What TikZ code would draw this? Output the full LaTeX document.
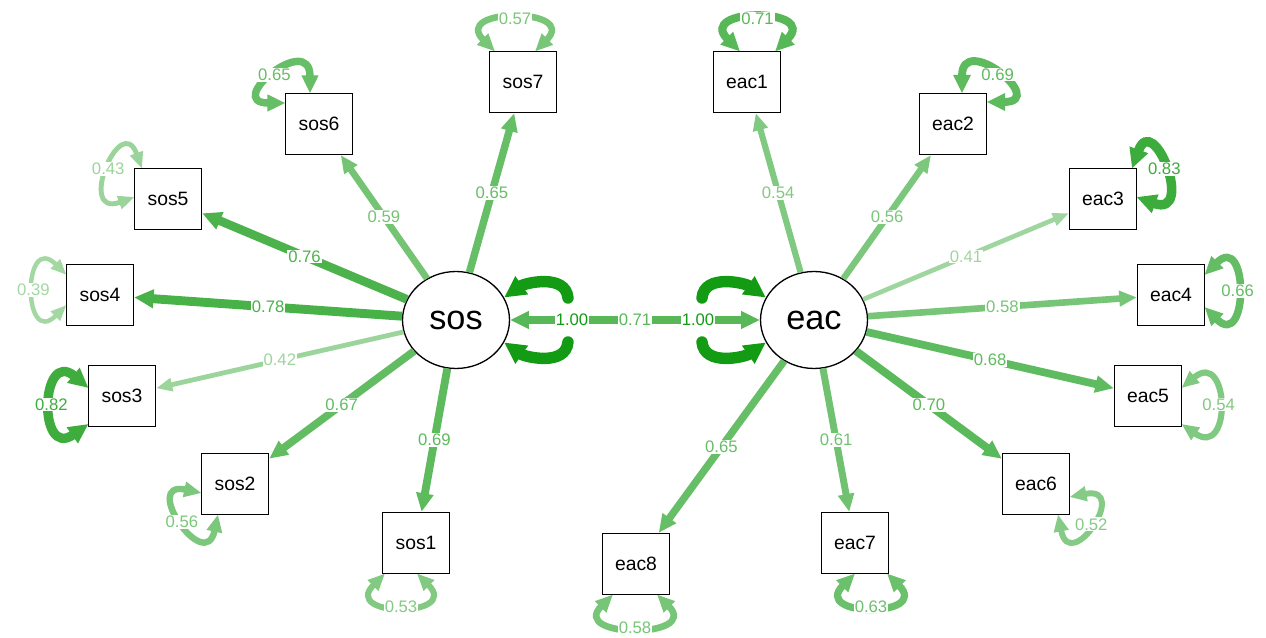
\documentclass[tikz,border=0pt]{standalone}
\usepackage{fontspec}
\setmainfont{Liberation Sans}
\usetikzlibrary{arrows.meta,shapes.geometric}
\definecolor{semgreen}{RGB}{20,155,20}
\begin{document}
\begin{tikzpicture}[x=0.02cm, y=0.02cm,
  >={Triangle[length=7pt 0.8, width=4pt 1.2]},
  manifest/.style={draw, line width=0.75pt, minimum width=1.34cm, minimum height=1.22cm, inner sep=0pt, font=\fontsize{11}{13}\selectfont},
  latent/.style={draw, ellipse, line width=0.75pt, minimum width=2.14cm, minimum height=1.94cm, inner sep=0pt, font=\fontsize{19.5}{22}\selectfont},
  lbl/.style={fill=white, inner sep=0.5pt, font=\fontsize{9.5}{11}\selectfont},
  load/.style={color=semgreen!#1!white, line width=0.065pt*#1, ->},
  resid/.style={color=semgreen!#1!white, line width=0.065pt*#1, <->}]
\path [use as bounding box, fill=white] (0,0) rectangle (1266,638);
% latent variables
\node [latent] (sos) at (456,318) {sos};
\node [latent] (eac) at (814,318) {eac};
% indicators
\node [manifest] (sos1) at (416,95) {sos1};
\node [manifest] (sos2) at (235,154) {sos2};
\node [manifest] (sos3) at (122,242) {sos3};
\node [manifest] (sos4) at (100,343) {sos4};
\node [manifest] (sos5) at (168,439) {sos5};
\node [manifest] (sos6) at (319,514) {sos6};
\node [manifest] (sos7) at (523,556) {sos7};
\node [manifest] (eac1) at (747,556) {eac1};
\node [manifest] (eac2) at (953,514) {eac2};
\node [manifest] (eac3) at (1103,439) {eac3};
\node [manifest] (eac4) at (1171,343) {eac4};
\node [manifest] (eac5) at (1148,242) {eac5};
\node [manifest] (eac6) at (1036,154) {eac6};
\node [manifest] (eac7) at (855,95) {eac7};
\node [manifest] (eac8) at (636,74) {eac8};
% loadings
\draw [load=69] (sos) -- node[lbl]{0.69} (sos1);
\draw [load=67] (sos) -- node[lbl]{0.67} (sos2);
\draw [load=42] (sos) -- node[lbl]{0.42} (sos3);
\draw [load=78] (sos) -- node[lbl]{0.78} (sos4);
\draw [load=76] (sos) -- node[lbl]{0.76} (sos5);
\draw [load=59] (sos) -- node[lbl]{0.59} (sos6);
\draw [load=65] (sos) -- node[lbl]{0.65} (sos7);
\draw [load=54] (eac) -- node[lbl]{0.54} (eac1);
\draw [load=56] (eac) -- node[lbl]{0.56} (eac2);
\draw [load=41] (eac) -- node[lbl]{0.41} (eac3);
\draw [load=58] (eac) -- node[lbl]{0.58} (eac4);
\draw [load=68] (eac) -- node[lbl]{0.68} (eac5);
\draw [load=70] (eac) -- node[lbl]{0.70} (eac6);
\draw [load=61] (eac) -- node[lbl]{0.61} (eac7);
\draw [load=65] (eac) -- node[lbl]{0.65} (eac8);
% covariance and latent variances
\draw [load=71, <->] (sos) -- node[lbl]{0.71} (eac);
\coordinate (sosvarA) at (568,340);
\coordinate (sosvarB) at (568,296);
\coordinate (eacvarA) at (702,340);
\coordinate (eacvarB) at (702,296);
\draw [load=100, line cap=round] (sosvarA) to[out=95, in=35] (sos.25);
\draw [load=100, line cap=round] (sosvarB) to[out=265, in=325] (sos.-25);
\draw [load=100, line cap=round] (eacvarA) to[out=85, in=145] (eac.155);
\draw [load=100, line cap=round] (eacvarB) to[out=275, in=215] (eac.205);
\node [lbl, text=semgreen] (sosvar) at (572,318) {1.00};
\node [lbl, text=semgreen] (eacvar) at (698,318) {1.00};
% residual variances
\draw [resid=53] ([shift={(1,-30.5)}]sos1.center) to[out=315, in=225, distance=1.25cm] node[lbl]{0.53} ([shift={(-31,-30.5)}]sos1.center);
\draw [resid=56] ([shift={(-17,-30.5)}]sos2.center) to[out=258, in=168, distance=1.25cm] node[lbl]{0.56} ([shift={(-33.5,-9)}]sos2.center);
\draw [resid=82] ([shift={(-33.5,-28)}]sos3.center) to[out=215, in=140, distance=1.25cm] node[lbl]{0.82} ([shift={(-33.5,8)}]sos3.center);
\draw [resid=39] ([shift={(-33.5,-10)}]sos4.center) to[out=225, in=135, distance=1.25cm] node[lbl]{0.39} ([shift={(-33.5,20)}]sos4.center);
\draw [resid=43] ([shift={(-33.5,2)}]sos5.center) to[out=200, in=110, distance=1.25cm] node[lbl]{0.43} ([shift={(-26,30.5)}]sos5.center);
\draw [resid=65] ([shift={(-33.5,21)}]sos6.center) to[out=180, in=90, distance=1.25cm] node[lbl]{0.65} ([shift={(-9,30.5)}]sos6.center);
\draw [resid=57] ([shift={(-28,30.5)}]sos7.center) to[out=135, in=45, distance=1.25cm] node[lbl]{0.57} ([shift={(12,30.5)}]sos7.center);
\draw [resid=71] ([shift={(-7,30.5)}]eac1.center) to[out=135, in=45, distance=1.25cm] node[lbl]{0.71} ([shift={(28,30.5)}]eac1.center);
\draw [resid=69] ([shift={(9,30.5)}]eac2.center) to[out=90, in=0, distance=1.25cm] node[lbl]{0.69} ([shift={(33.5,22)}]eac2.center);
\draw [resid=83] ([shift={(29,30.5)}]eac3.center) to[out=70, in=340, distance=1.25cm] node[lbl]{0.83} ([shift={(33.5,2)}]eac3.center);
\draw [resid=66] ([shift={(33.5,20)}]eac4.center) to[out=45, in=315, distance=1.25cm] node[lbl]{0.66} ([shift={(33.5,-12)}]eac4.center);
\draw [resid=54] ([shift={(33.5,8)}]eac5.center) to[out=40, in=325, distance=1.25cm] node[lbl]{0.54} ([shift={(33.5,-28)}]eac5.center);
\draw [resid=52] ([shift={(33.5,-13)}]eac6.center) to[out=11, in=281, distance=1.25cm] node[lbl]{0.52} ([shift={(22,-30.5)}]eac6.center);
\draw [resid=63] ([shift={(32,-30.5)}]eac7.center) to[out=315, in=225, distance=1.25cm] node[lbl]{0.63} ([shift={(0,-30.5)}]eac7.center);
\draw [resid=58] ([shift={(21,-30.5)}]eac8.center) to[out=315, in=225, distance=1.25cm] node[lbl]{0.58} ([shift={(-23,-30.5)}]eac8.center);
\end{tikzpicture}
\end{document}
